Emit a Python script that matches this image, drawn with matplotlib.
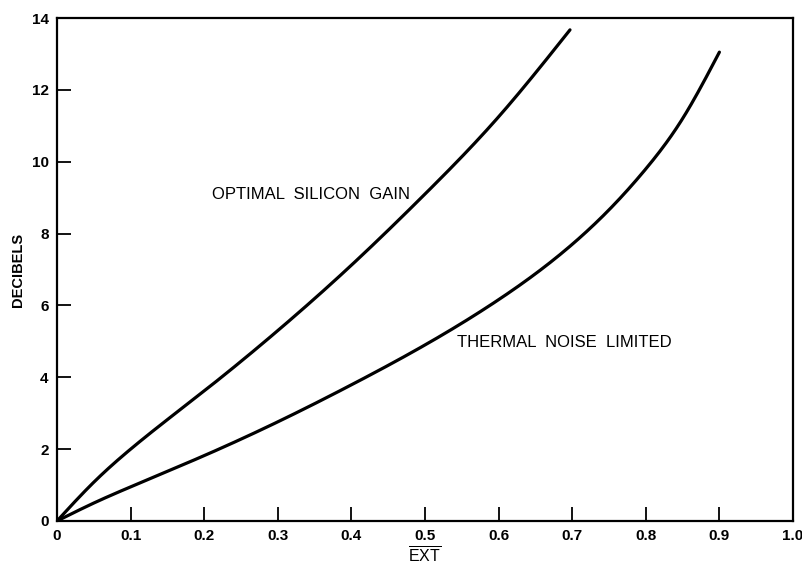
import matplotlib
matplotlib.use("Agg")
import matplotlib.pyplot as plt
import numpy as np

plt.rcParams['font.family'] = ['Liberation Sans', 'DejaVu Sans']
plt.rcParams['mathtext.fontset'] = 'custom'
plt.rcParams['mathtext.rm'] = 'Liberation Sans'
plt.rcParams['mathtext.bf'] = 'Liberation Sans:bold'

# Optimal silicon gain curve
x_gain = [0.0, 0.05, 0.1, 0.2, 0.3, 0.4, 0.5, 0.6, 0.697]
y_gain = [0.0, 1.08, 2.0, 3.62, 5.3, 7.12, 9.1, 11.25, 13.67]

# Thermal noise limited curve
x_noise = [0.0, 0.05, 0.1, 0.2, 0.3, 0.4, 0.5, 0.6, 0.7, 0.75, 0.8, 0.85, 0.9]
y_noise = [0.0, 0.5, 0.95, 1.82, 2.76, 3.79, 4.9, 6.16, 7.7, 8.66, 9.8, 11.2, 13.05]

x_ticks = [0, 0.1, 0.2, 0.3, 0.4, 0.5, 0.6, 0.7, 0.8, 0.9, 1.0]
x_tick_labels = ["0", "0.1", "0.2", "0.3", "0.4", "0.5", "0.6", "0.7", "0.8", "0.9", "1.0"]
y_ticks = [0, 2, 4, 6, 8, 10, 12, 14]
y_tick_labels = ["0", "2", "4", "6", "8", "10", "12", "14"]


def spline(xs, ys, n=400):
    """Natural cubic spline through the read-off points."""
    xs = np.asarray(xs, float)
    ys = np.asarray(ys, float)
    k = len(xs)
    h = np.diff(xs)
    A = np.zeros((k, k))
    b = np.zeros(k)
    A[0, 0] = 1.0
    A[-1, -1] = 1.0
    for i in range(1, k - 1):
        A[i, i - 1] = h[i - 1]
        A[i, i] = 2 * (h[i - 1] + h[i])
        A[i, i + 1] = h[i]
        b[i] = 6 * ((ys[i + 1] - ys[i]) / h[i] - (ys[i] - ys[i - 1]) / h[i - 1])
    M = np.linalg.solve(A, b)
    xx = np.linspace(xs[0], xs[-1], n)
    idx = np.clip(np.searchsorted(xs, xx) - 1, 0, k - 2)
    x0, x1 = xs[idx], xs[idx + 1]
    hh = h[idx]
    yy = (M[idx] * (x1 - xx) ** 3 / (6 * hh) + M[idx + 1] * (xx - x0) ** 3 / (6 * hh)
          + (ys[idx] / hh - M[idx] * hh / 6) * (x1 - xx)
          + (ys[idx + 1] / hh - M[idx + 1] * hh / 6) * (xx - x0))
    return xx, yy


fig = plt.figure(figsize=(8.03, 5.67), dpi=100)
ax = fig.add_axes([57 / 803, 1 - 521 / 567, (793 - 57) / 803, (521 - 18) / 567])

xg, yg = spline(x_gain, y_gain)
xn, yn = spline(x_noise, y_noise)
ax.plot(xg, yg, color='black', lw=2.3, solid_capstyle='round')
ax.plot(xn, yn, color='black', lw=2.3, solid_capstyle='round')

ax.set_xlim(0, 1.0)
ax.set_ylim(0, 14)
ax.set_xticks(x_ticks)
ax.set_xticklabels(x_tick_labels)
ax.set_yticks(y_ticks)
ax.set_yticklabels(y_tick_labels)
ax.tick_params(direction='in', length=10, width=1.3, labelsize=11, pad=6)
for lab in ax.get_xticklabels() + ax.get_yticklabels():
    lab.set_fontweight('bold')
for s in ax.spines.values():
    s.set_linewidth(1.6)

ax.set_ylabel('DECIBELS', fontsize=10.5, fontweight='bold', labelpad=5)
ax.set_xlabel(r'$\overline{\mathrm{EXT}}$', fontsize=11.5, labelpad=2)

ax.text(0.21, 9.1, 'OPTIMAL  SILICON  GAIN', fontsize=12, va='center', ha='left')
ax.text(0.543, 4.98, 'THERMAL  NOISE  LIMITED', fontsize=12, va='center', ha='left')

fig.savefig('out.png', dpi=100)
